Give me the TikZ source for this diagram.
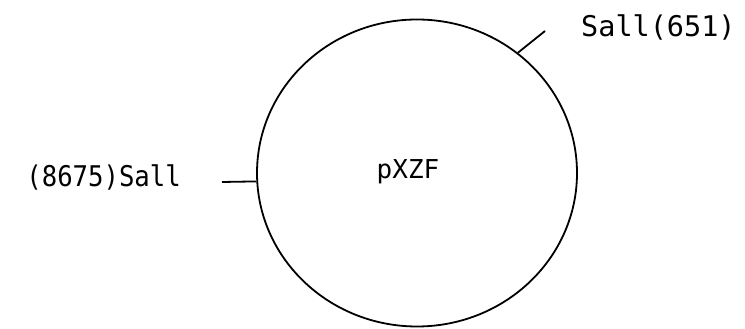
\documentclass[tikz,border=0pt]{standalone}
\usepackage{fontspec}
\newfontfamily\labelfont{DejaVu Sans Mono}
\usetikzlibrary{shapes.geometric}
\tikzset{
  plasmid/.style={draw, ellipse, line width=1.8pt, minimum width=320pt, minimum height=307pt, inner sep=0pt},
  sitetick/.style={line width=1.8pt},
  lbl/.style={inner sep=0pt, font=\labelfont\fontsize{26}{30}\selectfont},
  sitelbl/.style={inner sep=0pt, font=\labelfont\fontsize{28.5}{32}\selectfont}
}
\begin{document}
\begin{tikzpicture}[x=1pt,y=1pt]
\useasboundingbox (0,0) rectangle (745,329);
\node[plasmid] (c) at (417,156) {};
\node[lbl] (name) at (408,157) {pXZF};
\coordinate (tr) at (545,298);
\coordinate (lf) at (222,147);
\draw[sitetick] (c.50) -- (tr);
\draw[sitetick] (c.183) -- (lf);
\node[sitelbl, anchor=west] (s1) at (581,302) {Sall(651)};
\node[sitelbl, anchor=east, xscale=0.9, transform shape] (s2) at (181,152) {(8675)Sall};
\end{tikzpicture}
\end{document}
